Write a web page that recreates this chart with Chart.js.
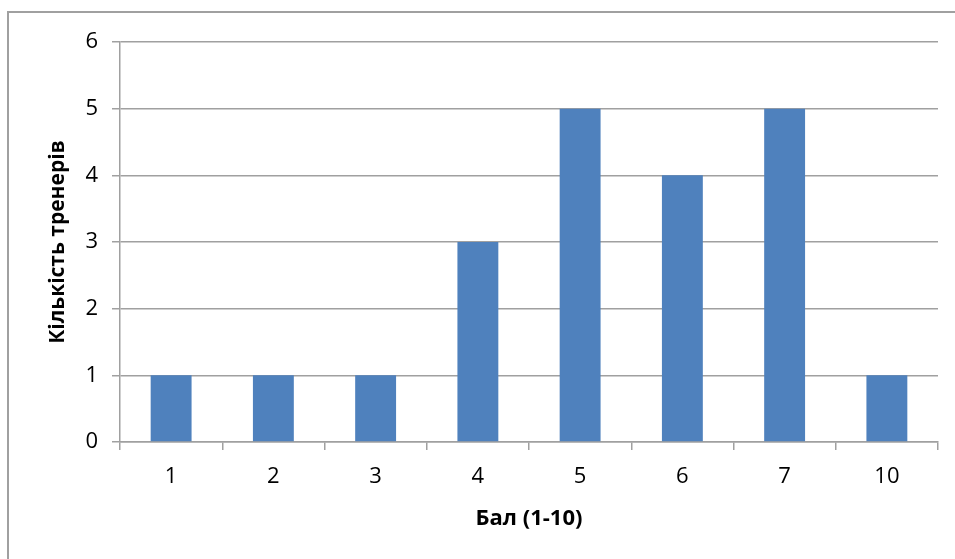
<!DOCTYPE html>
<html>
<head>
<meta charset="utf-8">
<script src="https://cdn.jsdelivr.net/npm/chart.js@4"></script>
<style>
    html, body { margin: 0; padding: 0; background: #fff; overflow: hidden; }
    #frame { position: absolute; left: 7px; top: 11px; width: 1000px; height: 600px;
             border-left: 2px solid #a0a0a0; border-top: 2px solid #a0a0a0; }
    #wrap { position: absolute; left: 0; top: 0; width: 955px; height: 559px; }
</style>
</head>
<body>
<div id="frame"></div>
<div id="wrap"><canvas id="scoreChart"></canvas></div>
<script>
const scoreLabels = ['1', '2', '3', '4', '5', '6', '7', '10'];
const coachCounts = [1, 1, 1, 3, 5, 4, 5, 1];
const yTicks = [0, 1, 2, 3, 4, 5, 6];

const FONT = "'Open Sans', 'DejaVu Sans', sans-serif";
const gridColor = '#a0a0a0';

const ctx = document.getElementById('scoreChart').getContext('2d');
new Chart(ctx, {
    type: 'bar',
    data: {
        labels: scoreLabels,
        datasets: [{
            label: 'Кількість тренерів',
            data: coachCounts,
            backgroundColor: '#4f81bd',
            categoryPercentage: 1,
            barPercentage: 0.4
        }]
    },
    options: {
        responsive: true,
        maintainAspectRatio: false,
        animation: false,
        layout: { padding: { left: 0, top: 42, right: 17, bottom: 0 } },
        plugins: { legend: { display: false }, tooltip: { enabled: false } },
        scales: {
            x: {
                grid: { offset: true, drawOnChartArea: false, tickLength: 8, color: gridColor, lineWidth: 1.5 },
                border: { color: gridColor, width: 1.5 },
                ticks: { color: '#000', font: { family: FONT, size: 22 }, padding: 14 },
                title: { display: true, text: 'Бал (1-10)', color: '#000',
                         font: { family: FONT, size: 22, weight: 'bold' }, padding: 27 },
                afterFit(scale) { scale.height = 117; }
            },
            y: {
                min: 0,
                max: 6,
                afterBuildTicks(scale) { scale.ticks = yTicks.map(v => ({ value: v })); },
                grid: { tickLength: 8, color: gridColor, lineWidth: 1.5 },
                border: { color: gridColor, width: 1.5 },
                ticks: { color: '#000', font: { family: FONT, size: 22 }, padding: 14 },
                title: { display: true, text: 'Кількість тренерів', color: '#000',
                         font: { family: FONT, size: 21, weight: 'bold' }, padding: 45 },
                afterFit(scale) { scale.width = 120; }
            }
        }
    }
});
</script>
</body>
</html>
